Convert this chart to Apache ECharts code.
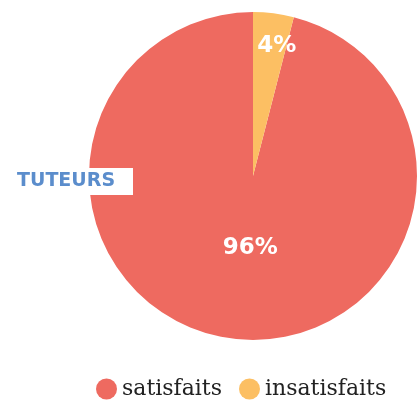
<!DOCTYPE html>
<html>
<head>
<meta charset="utf-8">
<script src="https://cdn.jsdelivr.net/npm/echarts@6/dist/echarts.min.js"></script>
<style>
  html, body { margin: 0; padding: 0; background: #fff; }
  #chart { width: 420px; height: 401px; }
</style>
</head>
<body>
<div id="chart"></div>
<script>
const categories = ['satisfaits', 'insatisfaits'];
const values = [96, 4];
const colors = ['#ee6a60', '#fcbf63'];
const groupLabel = 'TUTEURS';

const chart = echarts.init(document.getElementById('chart'));

const option = {
  animation: false,
  color: colors,
  legend: {
    data: categories,
    top: 373,
    left: 91,
    icon: 'circle',
    itemWidth: 21,
    itemHeight: 21,
    itemGap: 17,
    textStyle: { fontFamily: 'DejaVu Serif', fontSize: 22, color: '#222' }
  },
  graphic: [
    {
      type: 'rect',
      left: 0,
      top: 168,
      z: 100,
      shape: { width: 133, height: 27 },
      style: { fill: '#fff' }
    },
    {
      type: 'text',
      left: 17,
      top: 172,
      z: 101,
      style: {
        text: groupLabel,
        fill: '#5b8dcc',
        font: 'bold 19px "DejaVu Sans"',
        letterSpacing: 1
      }
    }
  ],
  series: [
    {
      type: 'pie',
      center: [253, 176],
      radius: [0, 164],
      startAngle: 90,
      clockwise: false,
      label: {
        show: true,
        position: 'inside',
        formatter: '{c}%',
        color: '#fff',
        fontFamily: 'DejaVu Sans',
        fontWeight: 'bold',
        fontSize: 23
      },
      labelLine: { show: false },
      labelLayout: function (params) {
        if (params.dataIndex === 1) return { dy: -46, dx: 13 };
        return { dy: -12, dx: 8 };
      },
      itemStyle: { borderWidth: 0 },
      emphasis: { disabled: true },
      data: categories.map((name, i) => ({ name: name, value: values[i] }))
    }
  ]
};

chart.setOption(option);
</script>
</body>
</html>
